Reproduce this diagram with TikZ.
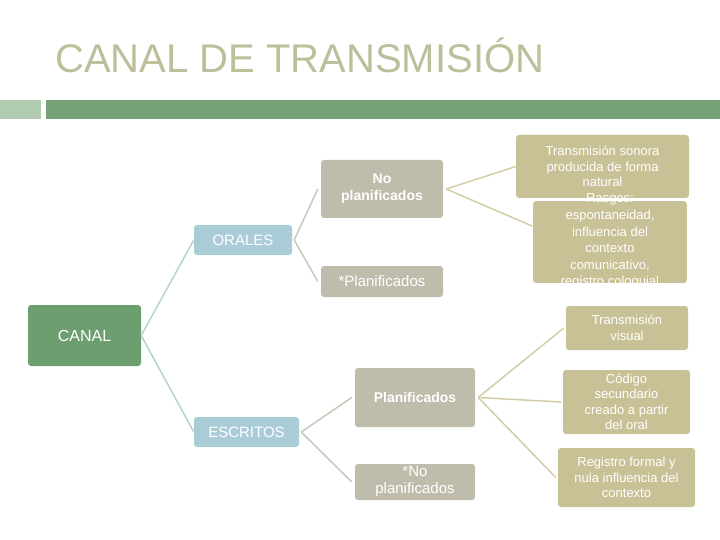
\documentclass[tikz,border=0pt]{standalone}
\usepackage{fontspec}
\setmainfont{Liberation Sans}
\definecolor{titlec}{HTML}{BDBE9A}
\definecolor{barg}{HTML}{74A276}
\definecolor{barl}{HTML}{B0CBB0}
\definecolor{canalc}{HTML}{6C9E70}
\definecolor{bluec}{HTML}{A9CCD7}
\definecolor{greyc}{HTML}{BFBCAB}
\definecolor{tanc}{HTML}{C8C196}
\definecolor{linetan}{HTML}{D3CDA8}
\definecolor{linegrey}{HTML}{C9C7BA}
\definecolor{lineblue}{HTML}{B7D1D8}
\begin{document}
\begin{tikzpicture}[x=1pt,y=-1pt,
  box/.style={rounded corners=3pt,text=white,align=center,inner sep=1pt,font=\fontsize{13}{15.5}\selectfont},
  conb/.style={draw=lineblue,line width=1.5pt},
  cong/.style={draw=linegrey,line width=1.5pt},
  cont/.style={draw=linetan,line width=1.5pt}]
\useasboundingbox (0,0) rectangle (720,540);
\node[anchor=base west,text=titlec,font=\fontsize{40}{40}\selectfont,inner sep=0] (title) at (55,73) {CANAL DE TRANSMISIÓN};
\fill[barl] (0,100) rectangle (41,119);
\fill[barg] (46,100) rectangle (720,119);
% nodes
\node[box,fill=canalc,minimum width=113pt,minimum height=61pt,font=\fontsize{16}{18}\selectfont] (canal) at (84.5,335.5) {CANAL};
\node[box,fill=bluec,minimum width=98pt,minimum height=30pt,font=\fontsize{15}{17}\selectfont] (orales) at (243,240) {ORALES};
\node[box,fill=bluec,minimum width=105pt,minimum height=30pt,font=\fontsize{15}{17}\selectfont] (escritos) at (246.5,432) {ESCRITOS};
\node[box,fill=greyc,minimum width=122pt,minimum height=58pt,font=\bfseries\fontsize{14}{17}\selectfont] (noplan) at (382,189) {No\\planificados};
\node[box,fill=greyc,minimum width=122pt,minimum height=31pt,font=\fontsize{15}{17}\selectfont] (plan) at (382,281.5) {*Planificados};
\node[box,fill=greyc,minimum width=120pt,minimum height=59pt,font=\bfseries\fontsize{14}{17}\selectfont] (planE) at (415,397.5) {Planificados};
\begin{scope}
\clip (355,464) rectangle (475,500);
\node[box,fill=greyc,minimum width=120pt,minimum height=36pt] (noplanE) at (415,482) {};
\node[text=white,align=center,font=\fontsize{15}{17}\selectfont] (noplanEt) at (415,481) {*No\\planificados};
\end{scope}
\node[box,fill=tanc,minimum width=173pt,minimum height=63pt] (t1) at (602.5,166.5) {Transmisión sonora\\producida de forma\\natural};
\begin{scope}
\clip[rounded corners=3pt] (533,201) rectangle (687,283);
\fill[tanc] (533,201) rectangle (687,283);
\end{scope}
\node[text=white,align=center,font=\fontsize{13}{16.6}\selectfont] (t2) at (610,240) {Rasgos:\\espontaneidad,\\influencia del\\contexto\\comunicativo,\\\phantom{x}};
\begin{scope}
\clip (533,201) rectangle (687,283);
\node[text=white,align=center,font=\fontsize{13}{16.6}\selectfont] (t2b) at (610,241) {\phantom{R}\\\phantom{e}\\\phantom{i}\\\phantom{c}\\\phantom{c}\\registro coloquial};
\end{scope}
\node[box,fill=tanc,minimum width=122pt,minimum height=44pt] (t3) at (627,328) {Transmisión\\visual};
\node[box,fill=tanc,minimum width=127pt,minimum height=64pt] (t4) at (626.5,402) {Código\\secundario\\creado a partir\\del oral};
\node[box,fill=tanc,minimum width=137pt,minimum height=59pt] (t5) at (626.5,477.5) {Registro formal y\\nula influencia del\\contexto};
\coordinate (t2w) at (532,226);
% connectors
\draw[conb] (canal.east) -- (orales.west);
\draw[conb] (canal.east) -- (escritos.west);
\draw[cong] ([xshift=2pt]orales.east) -- ([xshift=-3pt]noplan.west);
\draw[cong] ([xshift=2pt]orales.east) -- ([xshift=-3pt]plan.west);
\draw[cong] ([xshift=2pt]escritos.east) -- ([xshift=-3pt]planE.west);
\draw[cong] ([xshift=2pt]escritos.east) -- ([xshift=-3pt]noplanE.west);
\draw[cont] ([xshift=3pt]noplan.east) -- (t1.west);
\draw[cont] ([xshift=3pt]noplan.east) -- (t2w);
\draw[cont] ([xshift=3pt]planE.east) -- ([xshift=-2pt]t3.west);
\draw[cont] ([xshift=3pt]planE.east) -- ([xshift=-2pt]t4.west);
\draw[cont] ([xshift=3pt]planE.east) -- ([xshift=-2pt]t5.west);
\end{tikzpicture}
\end{document}
